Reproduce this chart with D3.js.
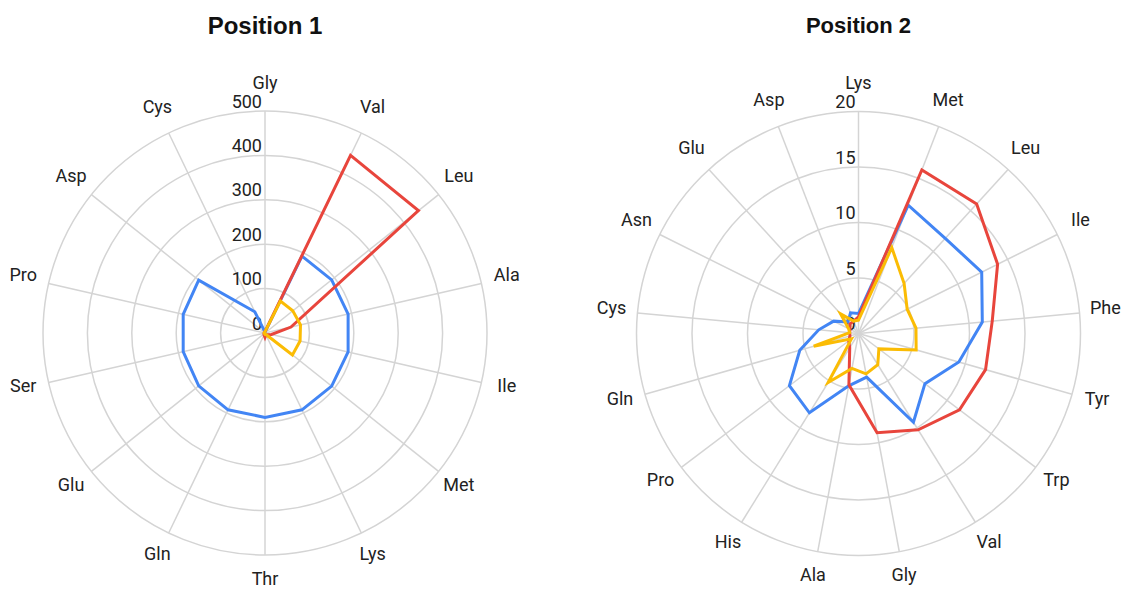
<!DOCTYPE html>
<html>
<head>
<meta charset="utf-8">
<script src="https://cdn.jsdelivr.net/npm/d3@7"></script>
<style>
  html, body { margin: 0; padding: 0; background: #ffffff; }
  svg { display: block; }
</style>
</head>
<body>
<svg id="chart" width="1124" height="589"></svg>
<script>
// ---- Position 1 data ----
const cats1 = ["Gly","Val","Leu","Ala","Ile","Met","Lys","Thr","Gln","Glu","Ser","Pro","Asp","Cys"];
const ticks1 = [0, 100, 200, 300, 400, 500];
const blue1   = [2, 192, 192, 192, 192, 192, 192, 190, 192, 191, 189, 189, 191, 53];
const red1    = [3, 444, 442, 60, 15, 6, 5, 10, 5, 3, 2, 2, 2, 2];
const yellow1 = [3, 80, 80, 82, 81, 79, 3, 3, 2, 2, 2, 2, 2, 2];

// ---- Position 2 data ----
const cats2 = ["Lys","Met","Leu","Ile","Phe","Tyr","Trp","Val","Gly","Ala","His","Pro","Gln","Cys","Asn","Glu","Asp"];
const ticks2 = [0, 5, 10, 15, 20];
const blue2   = [1.8, 12.4, 11.6, 12.4, 11.2, 9.4, 7.5, 9.4, 4.0, 4.8, 8.4, 7.8, 5.5, 3.6, 2.5, 1.4, 2.0];
const red2    = [1.5, 15.8, 15.8, 14.0, 12.1, 11.9, 11.4, 10.2, 9.1, 4.7, 1.5, 1.1, 0.8, 0.8, 0.85, 1.15, 1.2];
const yellow2 = [1.2, 8.3, 6.1, 4.9, 5.2, 5.4, 2.3, 3.3, 3.7, 3.2, 5.2, 0.8, 4.2, 0.8, 1.0, 2.4, 1.2];

const colors = { blue: "#4285F4", red: "#E8453C", yellow: "#FBBC04" };

const svg = d3.select("#chart");

function radar(opts) {
  const { cx, cy, R, cats, ticks, max, series, title, titleSize, titleY } = opts;
  const g = svg.append("g").attr("transform", `translate(${cx},${cy})`);
  const r = d3.scaleLinear().domain([0, max]).range([0, R]);
  const a = d3.scaleBand().domain(cats).range([0, 2 * Math.PI]).align(0).paddingInner(0).paddingOuter(0);
  const ang = c => a(c);

  // grid circles
  g.selectAll("circle.grid").data(ticks.filter(t => t > 0)).join("circle")
    .attr("class", "grid").attr("r", d => r(d))
    .attr("fill", "none").attr("stroke", "#d4d4d4").attr("stroke-width", 1.5);

  // radial lines
  g.selectAll("line.spoke").data(cats).join("line")
    .attr("class", "spoke")
    .attr("x1", 0).attr("y1", 0)
    .attr("x2", d => R * Math.sin(ang(d)))
    .attr("y2", d => -R * Math.cos(ang(d)))
    .attr("stroke", "#d4d4d4").attr("stroke-width", 1.5);

  // tick labels
  g.selectAll("text.tick").data(ticks).join("text")
    .attr("class", "tick")
    .attr("x", -3).attr("y", d => -r(d) - 10)
    .attr("text-anchor", "end").attr("dominant-baseline", "central")
    .attr("font-family", "Roboto, 'Noto Sans', sans-serif").attr("font-size", 18)
    .attr("fill", "#222").text(d => d);

  // category labels
  const LR = 248;
  g.selectAll("text.cat").data(cats).join("text")
    .attr("class", "cat")
    .attr("x", d => LR * Math.sin(ang(d)))
    .attr("y", d => -LR * Math.cos(ang(d)) - 3)
    .attr("text-anchor", "middle").attr("dominant-baseline", "central")
    .attr("font-family", "Roboto, 'Noto Sans', sans-serif").attr("font-size", 18)
    .attr("fill", "#222").text(d => d);

  // series
  const line = d3.lineRadial()
    .angle((d, i) => ang(cats[i]))
    .radius(d => r(d))
    .curve(d3.curveLinearClosed);
  series.forEach(s => {
    g.append("path").datum(s.values)
      .attr("d", line)
      .attr("fill", "none").attr("stroke", s.color)
      .attr("stroke-width", 3).attr("stroke-linejoin", "miter");
  });

  svg.append("text")
    .attr("x", cx).attr("y", titleY)
    .attr("text-anchor", "middle")
    .attr("font-family", "'Liberation Sans', Arial, sans-serif")
    .attr("font-weight", "bold").attr("font-size", titleSize)
    .attr("fill", "#111").text(title);
}

radar({
  cx: 265, cy: 333, R: 222, cats: cats1, ticks: ticks1, max: 500,
  series: [
    { values: blue1, color: colors.blue },
    { values: red1, color: colors.red },
    { values: yellow1, color: colors.yellow }
  ],
  title: "Position 1", titleSize: 24, titleY: 34
});

radar({
  cx: 858.5, cy: 333.5, R: 222, cats: cats2, ticks: ticks2, max: 20,
  series: [
    { values: blue2, color: colors.blue },
    { values: red2, color: colors.red },
    { values: yellow2, color: colors.yellow }
  ],
  title: "Position 2", titleSize: 22, titleY: 33
});
</script>
</body>
</html>
